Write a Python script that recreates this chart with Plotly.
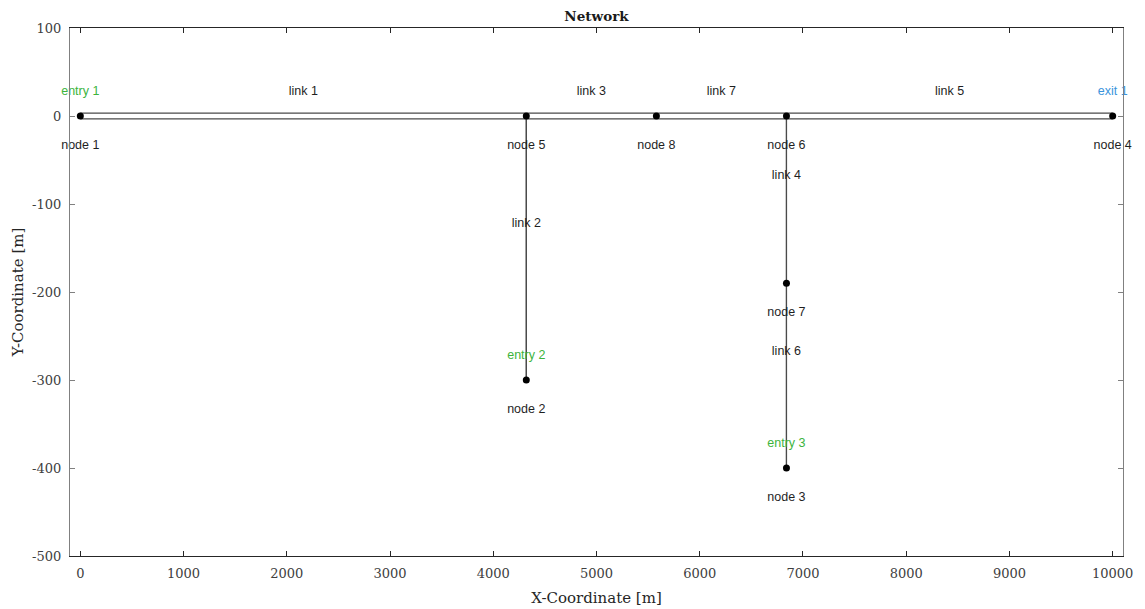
import plotly.graph_objects as go

# nodes of the network
node_names = ["node 1", "node 2", "node 3", "node 4", "node 5", "node 6", "node 7", "node 8"]
node_x = [0, 4320, 6840, 10000, 4320, 6840, 6840, 5580]
node_y = [0, -300, -400, 0, 0, 0, -190, 0]

# links as (from node, to node), 1-based like the labels
link_names = ["link 1", "link 2", "link 3", "link 4", "link 5", "link 6", "link 7"]
link_from = [1, 5, 5, 6, 6, 7, 8]
link_to = [5, 2, 8, 7, 4, 3, 6]

entry_names = ["entry 1", "entry 2", "entry 3"]
entry_nodes = [1, 2, 3]
exit_names = ["exit 1"]
exit_nodes = [4]

x_ticks = list(range(0, 10001, 1000))
y_ticks = list(range(-500, 101, 100))

LABEL_UP = 27
LABEL_DOWN = -34
LINE_OFF = 3.2

text_font = dict(family="Liberation Sans, Arial, sans-serif", size=12.5)
serif = "DejaVu Serif, serif"

fig = go.Figure()

# each link drawn twice, shifted a little in y
for off in (LINE_OFF, -LINE_OFF):
    lx, ly = [], []
    for a, b in zip(link_from, link_to):
        lx += [node_x[a - 1], node_x[b - 1], None]
        ly += [node_y[a - 1] + off, node_y[b - 1] + off, None]
    fig.add_trace(go.Scatter(x=lx, y=ly, mode="lines",
                             line=dict(color="#4a4a4a", width=1.2),
                             hoverinfo="skip", showlegend=False))

fig.add_trace(go.Scatter(x=node_x, y=node_y, mode="markers",
                         marker=dict(color="black", size=7),
                         showlegend=False))

fig.add_trace(go.Scatter(x=node_x, y=[v + LABEL_DOWN for v in node_y],
                         mode="text", text=node_names,
                         textfont=dict(color="#1f1f1f", **text_font),
                         cliponaxis=False, showlegend=False))

mid_x = [(node_x[a - 1] + node_x[b - 1]) / 2 for a, b in zip(link_from, link_to)]
mid_y = [(node_y[a - 1] + node_y[b - 1]) / 2 + LABEL_UP for a, b in zip(link_from, link_to)]
fig.add_trace(go.Scatter(x=mid_x, y=mid_y, mode="text", text=link_names,
                         textfont=dict(color="#1f1f1f", **text_font),
                         cliponaxis=False, showlegend=False))

fig.add_trace(go.Scatter(x=[node_x[n - 1] for n in entry_nodes],
                         y=[node_y[n - 1] + LABEL_UP for n in entry_nodes],
                         mode="text", text=entry_names,
                         textfont=dict(color="#3cb43c", **text_font),
                         cliponaxis=False, showlegend=False))

fig.add_trace(go.Scatter(x=[node_x[n - 1] for n in exit_nodes],
                         y=[node_y[n - 1] + LABEL_UP for n in exit_nodes],
                         mode="text", text=exit_names,
                         textfont=dict(color="#3a94dc", **text_font),
                         cliponaxis=False, showlegend=False))

# the page body adds 8px on the top and left, so the figure is a bit smaller
fig.update_layout(
    width=1137, height=601,
    margin=dict(l=62, r=22, t=20, b=53, autoexpand=False),
    plot_bgcolor="white", paper_bgcolor="white",
    title=dict(text="<b>Network</b>", x=0.5, xref="paper", xanchor="center",
               y=1 - 8 / 601, yref="container", yanchor="middle",
               font=dict(family=serif, size=13.5, color="#1a1a1a")),
    xaxis=dict(range=[-100, 10100], tickvals=x_ticks,
               ticktext=[str(v) for v in x_ticks],
               showgrid=False, zeroline=False, automargin=False,
               showline=True, linecolor="#262626", linewidth=1.2, mirror="ticks",
               ticks="inside", ticklen=5, tickcolor="#262626",
               ticklabelstandoff=5,
               tickfont=dict(family=serif, size=13, color="#404040"),
               title=dict(text="X-Coordinate [m]", standoff=12,
                          font=dict(family=serif, size=15, color="#262626"))),
    yaxis=dict(range=[-500, 100], tickvals=y_ticks,
               ticktext=[str(v) for v in y_ticks],
               showgrid=False, zeroline=False, automargin=False,
               showline=True, linecolor="#808080", linewidth=1.2, mirror="ticks",
               ticks="inside", ticklen=5, tickcolor="#808080",
               ticklabelstandoff=5,
               tickfont=dict(family=serif, size=13, color="#404040"),
               title=dict(text="Y-Coordinate [m]", standoff=4,
                          font=dict(family=serif, size=15, color="#262626"))),
)

fig.write_html("out.html")
